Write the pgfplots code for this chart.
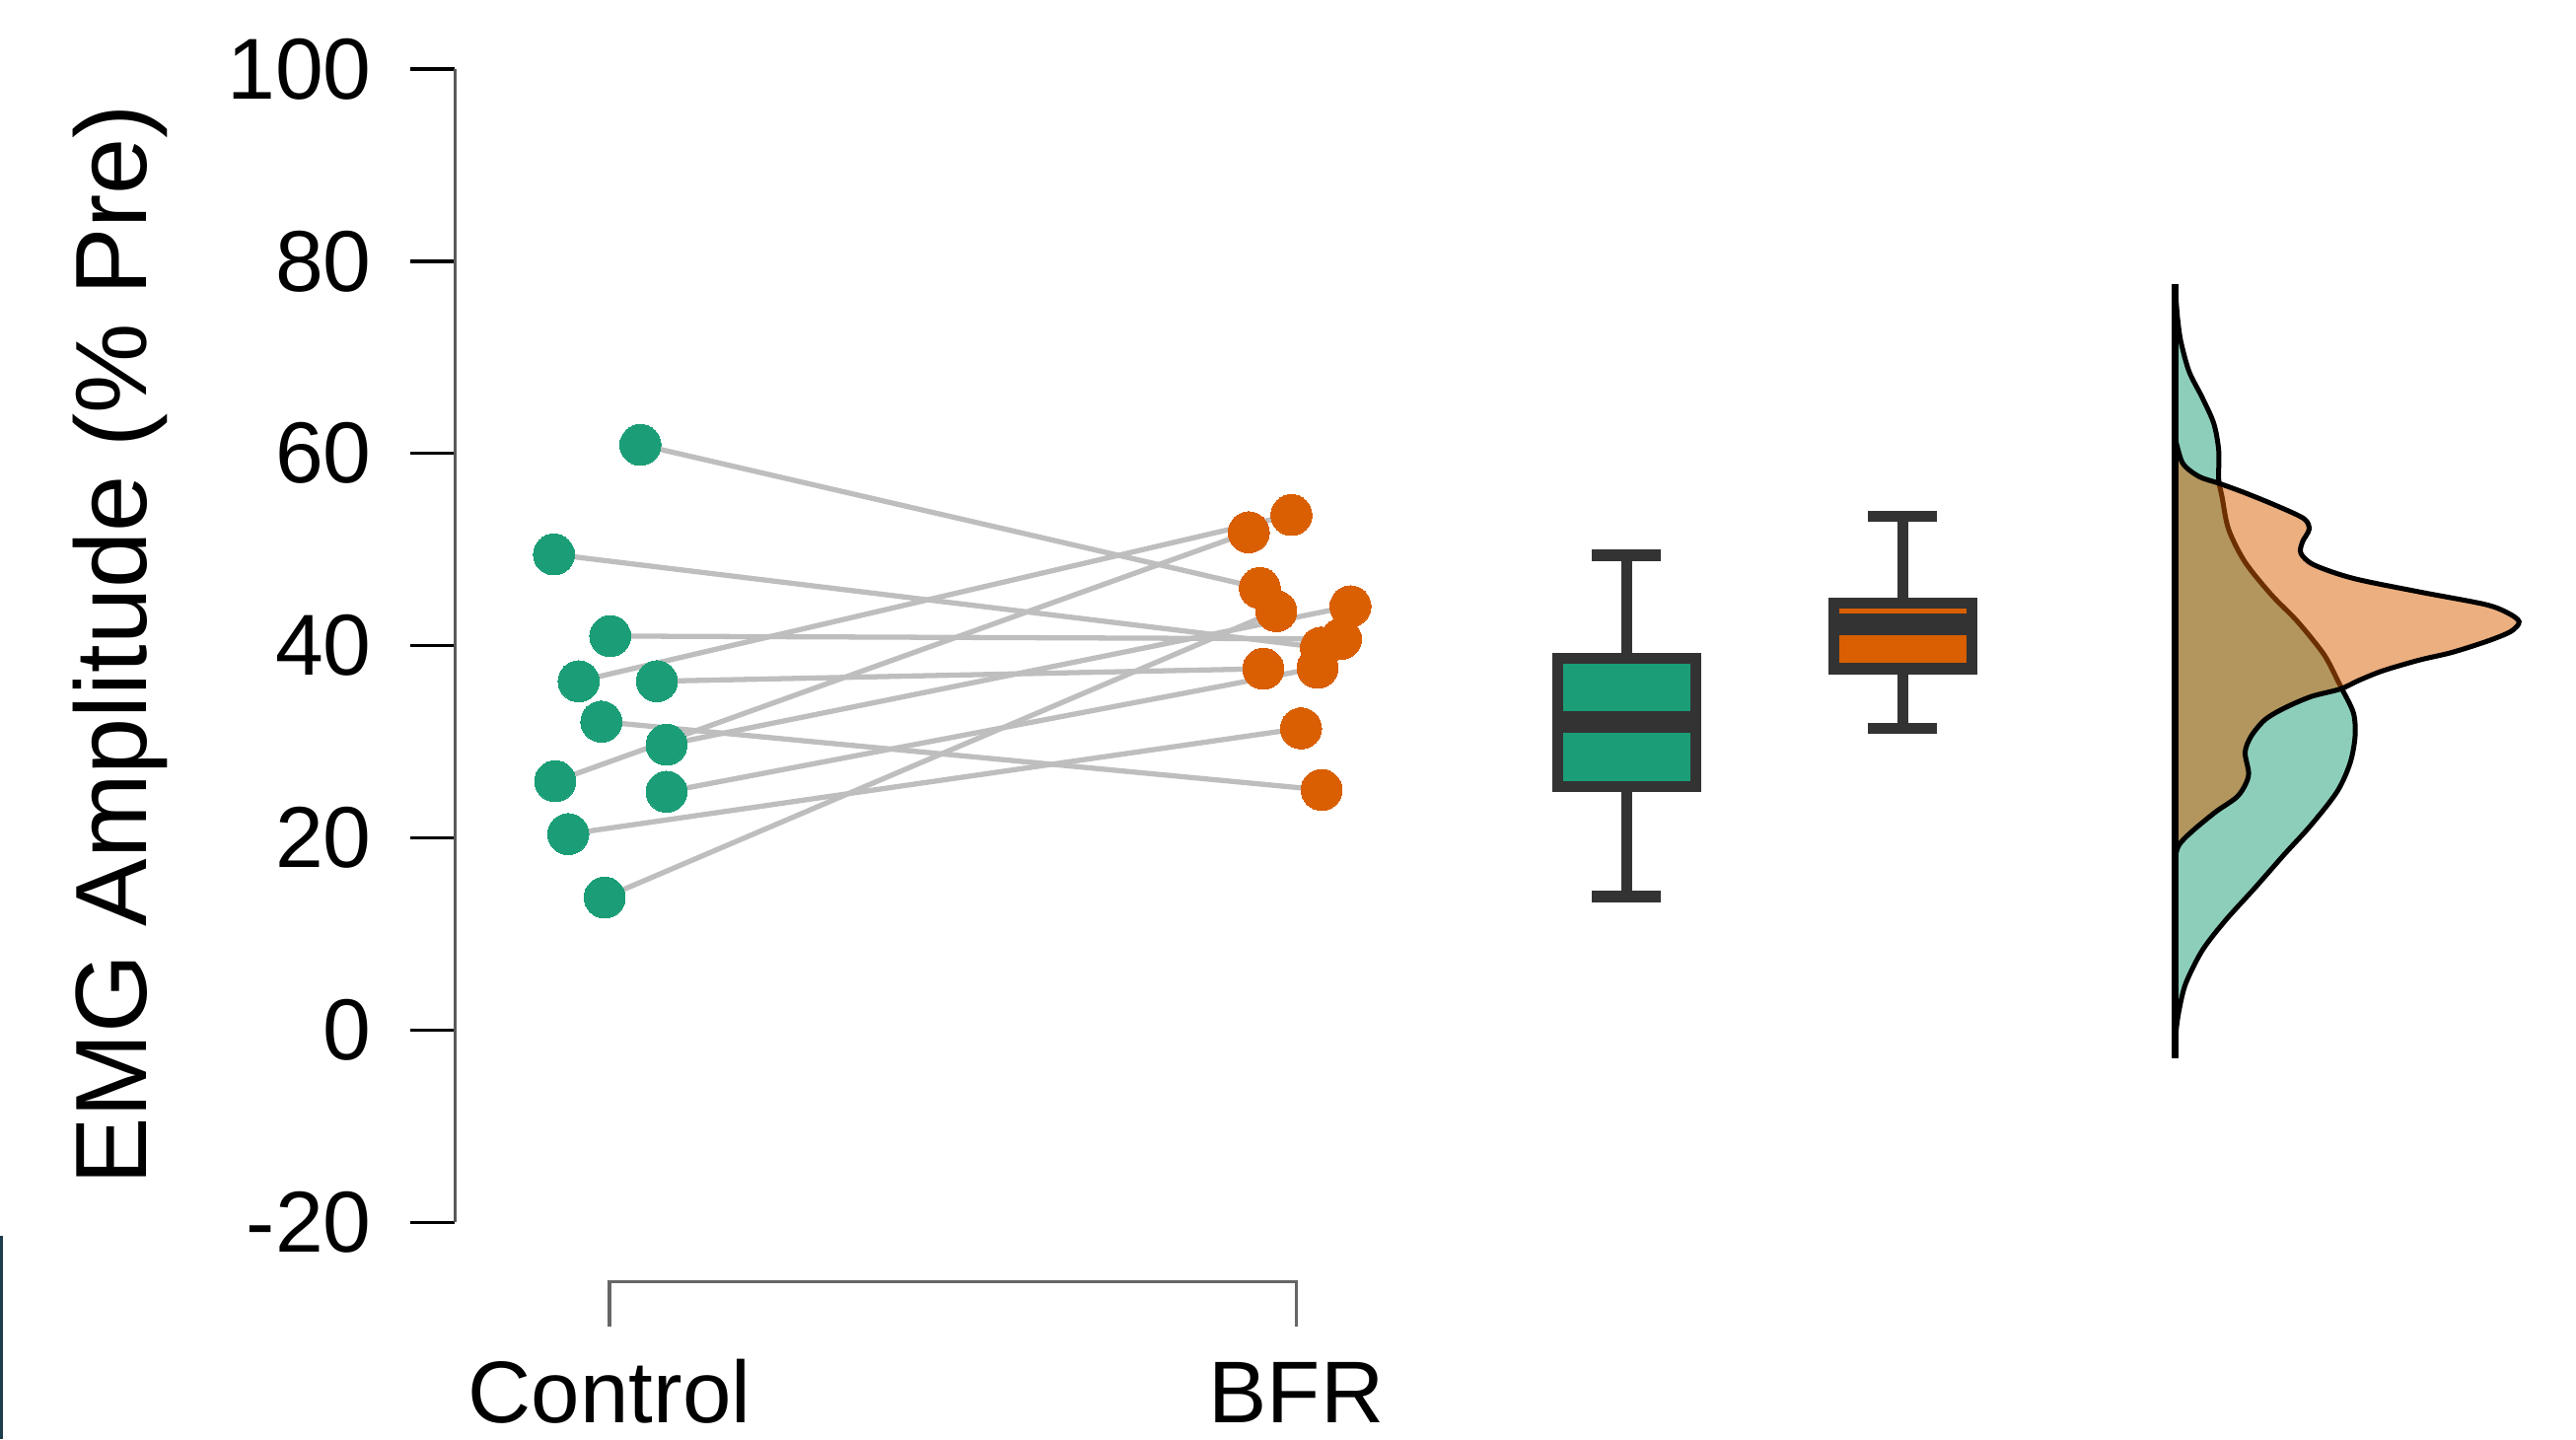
\documentclass[border=0pt]{standalone}
\usepackage{pgfplots}
\pgfplotsset{compat=1.18}
\usepgfplotslibrary{statistics}
\usepackage{fontspec}
\setmainfont{Liberation Sans}
\definecolor{cgreen}{HTML}{1B9E77}
\definecolor{corange}{HTML}{D95F02}
\definecolor{clines}{HTML}{BEBEBE}
\definecolor{cbox}{HTML}{333333}
\definecolor{cedge}{HTML}{1D3C4C}
\begin{document}
\begin{tikzpicture}
\pgfplotsset{pair/.style={color=clines, line width=0.95pt, no marks, forget plot}}
\begin{axis}[
  x=125.4pt, y=1.755pt,
  xmin=0.775, xmax=3.85, ymin=-20, ymax=100,
  axis x line=none, axis y line*=left,
  y axis line style={black!65, line width=0.6pt},
  ytick={-20,0,20,40,60,80,100},
  tick align=outside,
  major tick length=8.1pt,
  ytick style={black, line width=0.6pt},
  /pgf/number format/assume math mode=true,
  yticklabel style={font=\fontsize{15.8}{18}\selectfont, anchor=east, xshift=-3.6pt},
  clip=false,
]
% bounding frame of the whole picture
\path (axis cs:0.1124,107.18) rectangle (axis cs:3.8636,-42.56);
\fill[cedge] (axis cs:0.1124,-21.4) rectangle (axis cs:0.1172,-42.56);

% paired lines
\addplot[pair] coordinates {(1.045,60.9)(1.947,46.0)};
\addplot[pair] coordinates {(0.919,49.5)(2.036,39.8)};
\addplot[pair] coordinates {(1.001,41.0)(2.065,40.7)};
\addplot[pair] coordinates {(0.955,36.3)(1.993,53.6)};
\addplot[pair] coordinates {(1.069,36.3)(1.952,37.6)};
\addplot[pair] coordinates {(0.988,32.1)(2.037,25.0)};
\addplot[pair] coordinates {(1.083,29.7)(2.079,44.1)};
\addplot[pair] coordinates {(0.921,25.9)(1.931,51.8)};
\addplot[pair] coordinates {(1.083,24.8)(2.031,37.7)};
\addplot[pair] coordinates {(0.940,20.4)(2.007,31.4)};
\addplot[pair] coordinates {(0.993,13.8)(1.971,43.6)};

% points
\addplot[only marks, color=cgreen, mark=*, mark size=3.75pt, mark options={draw=cgreen, fill=cgreen, line width=0pt}]
 coordinates {(1.045,60.9)(0.919,49.5)(1.001,41.0)(0.955,36.3)(1.069,36.3)(0.988,32.1)(1.083,29.7)(0.921,25.9)(1.083,24.8)(0.940,20.4)(0.993,13.8)};
\addplot[only marks, color=corange, mark=*, mark size=3.75pt, mark options={draw=corange, fill=corange, line width=0pt}]
 coordinates {(1.947,46.0)(2.036,39.8)(2.065,40.7)(1.993,53.6)(1.952,37.6)(2.037,25.0)(2.079,44.1)(1.931,51.8)(2.031,37.7)(2.007,31.4)(1.971,43.6)};

% boxplots
\addplot[boxplot prepared={draw position=2.481, lower whisker=13.9, lower quartile=25.3, median=32.05, upper quartile=38.7, upper whisker=49.4, box extend=0.2007, whisker extend=0.1},
  boxplot/draw direction=y, draw=cbox, line width=2pt, fill=cgreen,
  boxplot/every median/.style={line width=4pt}] coordinates {};
\addplot[boxplot prepared={draw position=2.883, lower whisker=31.4, lower quartile=37.6, median=42.2, upper quartile=44.4, upper whisker=53.5, box extend=0.2007, whisker extend=0.1},
  boxplot/draw direction=y, draw=cbox, line width=2pt, fill=corange,
  boxplot/every median/.style={line width=4pt}] coordinates {};

% half densities
\addplot[smooth, tension=0.5, draw=black, line width=0.9pt, fill=cgreen, fill opacity=0.5] coordinates {
(3.2797,-2.9)(3.2811,-0.2)(3.2859,2.2)(3.2955,4.9)(3.3194,8.3)(3.3529,11.4)(3.3960,14.8)(3.4390,18.3)(3.4773,21.3)(3.5156,24.8)(3.5347,27.8)(3.5419,30.6)(3.5395,33.0)(3.5228,35.5)(3.5164,36.4)(3.4964,39.1)(3.4582,42.5)(3.4199,45.3)(3.3816,48.7)(3.3577,52.1)(3.3481,55.5)(3.3433,57.3)(3.3433,60.3)(3.3362,63.1)(3.3194,65.8)(3.3003,68.5)(3.2883,71.6)(3.2835,74.0)(3.2811,76.1)(3.2797,77.6)} -- cycle;
\addplot[smooth, tension=0.5, draw=black, line width=0.9pt, fill=corange, fill opacity=0.5] coordinates {
(3.2797,18.0)(3.2857,19.3)(3.3047,20.7)(3.3387,22.7)(3.3717,24.4)(3.3867,26.5)(3.3817,28.9)(3.3907,30.6)(3.4107,32.3)(3.4387,33.5)(3.4777,34.7)(3.5207,35.5)(3.5477,36.4)(3.5827,37.4)(3.6352,38.5)(3.6830,39.3)(3.7357,40.5)(3.7692,41.5)(3.7807,42.5)(3.7644,43.4)(3.7309,44.3)(3.6352,45.6)(3.5395,47.0)(3.4821,48.4)(3.4630,49.6)(3.4653,50.8)(3.4749,52.1)(3.4677,53.2)(3.4295,54.5)(3.3816,55.9)(3.3433,56.9)(3.3146,57.6)(3.2907,59.0)(3.2797,61.7)} -- cycle;
\addplot[black, line width=1.2pt, no marks] coordinates {(3.2797,-2.9)(3.2797,77.6)};

% category axis bracket and labels
\draw[black!60, line width=0.6pt] (axis cs:1,-30.8) -- (axis cs:1,-26.2) -- (axis cs:2,-26.2) -- (axis cs:2,-30.8);
\node[anchor=base, font=\fontsize{16}{19}\selectfont, inner sep=0pt] at (axis cs:1,-40.85) {Control};
\node[anchor=base, font=\fontsize{16}{19}\selectfont, inner sep=0pt] at (axis cs:2,-40.85) {BFR};
\node[rotate=90, anchor=base, font=\fontsize{18.5}{22}\selectfont, inner sep=0pt] at (axis cs:0.3254,40.1) {EMG Amplitude (\% Pre)};
\end{axis}
\end{tikzpicture}
\end{document}
